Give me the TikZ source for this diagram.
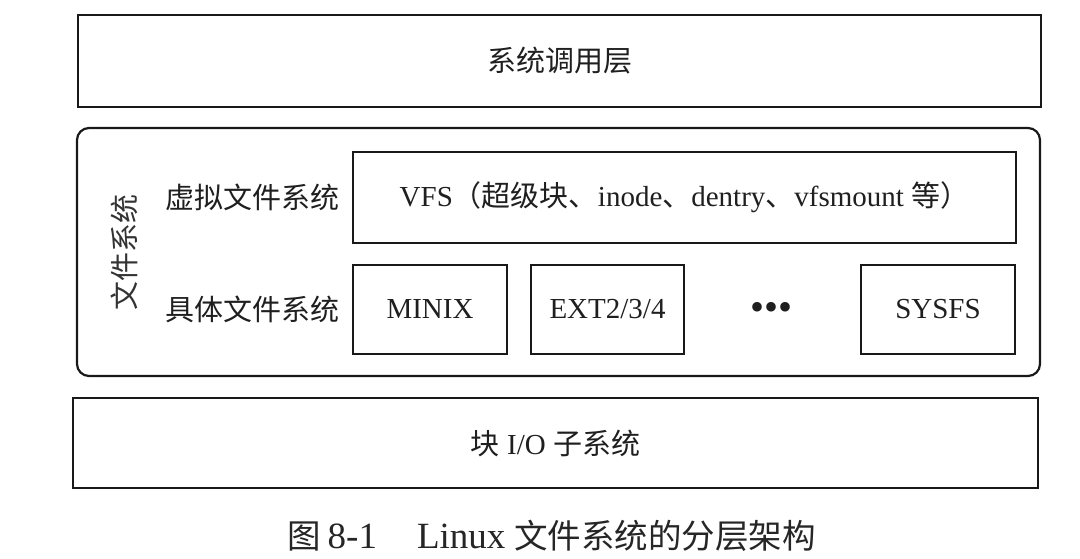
\documentclass[tikz,border=0pt]{standalone}
\usepackage{fontspec}
\setmainfont{Liberation Serif}
\newfontfamily\cjk{Noto Sans CJK SC}
\begin{document}
\begin{tikzpicture}[x=1pt,y=-1pt,
  layerbox/.style={draw=black!90, line width=2.2pt, inner sep=0pt},
  txt/.style={font=\fontsize{29}{29}\selectfont, text=black!88, inner sep=0pt},
  captxt/.style={inner sep=0pt, text=black!85}]
\useasboundingbox[fill=white] (0,0) rectangle (1080,559);
% top layer
\node[layerbox, txt, minimum width=963, minimum height=92] (sys) at (559.5,61) {\cjk 系统调用层};
% file system group
\node[layerbox, rounded corners=12pt, minimum width=963, minimum height=248] (fs) at (558.5,252) {};
\node[txt, rotate=90, text=black!80] (fslab) at (124,252) {\cjk 文件系统};
\node[txt] (vlab) at (252,197.5) {\cjk 虚拟文件系统};
\node[txt] (clab) at (252,309.5) {\cjk 具体文件系统};
\node[layerbox, txt, minimum width=663, minimum height=91] (vfs) at (684.5,197.5)
  {VFS{\cjk （超级块、}inode{\cjk 、}dentry{\cjk 、}vfsmount {\cjk 等）}};
\node[layerbox, txt, minimum width=154, minimum height=89] (minix) at (430,309.5) {MINIX};
\node[layerbox, txt, minimum width=153, minimum height=89] (ext) at (607.5,309.5) {EXT2/3/4};
\node[txt, font=\fontsize{40}{40}\selectfont] (dots) at (771,311) {•••};
\node[layerbox, txt, minimum width=154, minimum height=89] (sysfs) at (938,309.5) {SYSFS};
% bottom layer
\node[layerbox, txt, minimum width=965, minimum height=90] (bio) at (555.5,443) {{\cjk 块} I/O {\cjk 子系统}};
% caption
\node[captxt, anchor=west] (cap) at (287,536)
  {{\cjk\fontsize{33.5}{33.5}\selectfont 图}\hspace{7pt}{\fontsize{37}{37}\selectfont 8-1}\hspace{40pt}{\fontsize{37}{37}\selectfont Linux}\hspace{9pt}{\cjk\fontsize{33.5}{33.5}\selectfont 文件系统的分层架构}};
\end{tikzpicture}
\end{document}
